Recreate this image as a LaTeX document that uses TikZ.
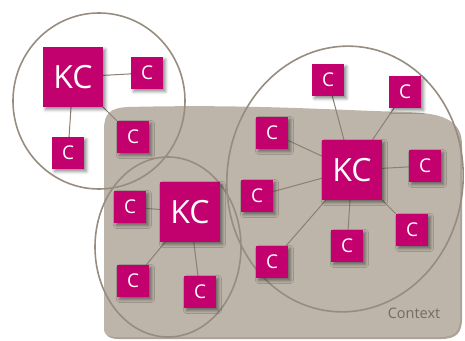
\documentclass[tikz,border=0pt]{standalone}
\usepackage{fontspec}
\setmainfont{Open Sans}
\usetikzlibrary{shadows.blur}
\definecolor{kcmag}{RGB}{194,0,110}
\definecolor{ctxfill}{RGB}{190,181,170}
\definecolor{ctxedge}{RGB}{172,162,150}
\definecolor{ringgray}{RGB}{150,140,128}
\definecolor{linkgray}{RGB}{138,128,116}
\definecolor{ctxtext}{RGB}{118,106,94}
\pgfdeclarelayer{under}
\pgfsetlayers{under,main}
\begin{document}
\begin{tikzpicture}[x=1pt,y=-1pt,
  box/.style={fill=kcmag, text=white, inner sep=0pt,
    blur shadow={shadow xshift=2.5pt, shadow yshift=-2.5pt,
                 shadow blur radius=3pt, shadow opacity=45}},
  kc/.style={box, minimum size=60pt, font=\fontsize{32}{32}\selectfont},
  cc/.style={box, minimum size=32pt, font=\fontsize{19}{19}\selectfont},
  link/.style={draw=linkgray, line width=1pt},
  ring/.style={draw=ringgray, line width=1.6pt}]
\useasboundingbox (0,0) rectangle (465,340);

\node[text=ctxtext, font=\fontsize{14.5}{14.5}\selectfont] (ctx) at (414,313) {Context};

% knowledge carriers and their contacts
\node[kc] (k1) at (73,77) {KC};
\node[cc] (a1) at (147,73) {C};
\node[cc] (a2) at (133,137) {C};
\node[cc] (a3) at (68,153) {C};

\node[kc] (k2) at (190,212) {KC};
\node[cc] (b1) at (130,207) {C};
\node[cc] (b2) at (133,281) {C};
\node[cc] (b3) at (200,292) {C};

\node[kc] (k3) at (352,170) {KC};
\node[cc] (c1) at (328,80) {C};
\node[cc] (c2) at (405,92) {C};
\node[cc] (c3) at (272,133) {C};
\node[cc] (c4) at (425,166) {C};
\node[cc] (c5) at (257,196) {C};
\node[cc] (c6) at (412,230) {C};
\node[cc] (c7) at (347,246) {C};
\node[cc] (c8) at (272,262) {C};

% everything beneath the boxes: context area, groupings, connectors
\begin{pgfonlayer}{under}
\fill[ctxedge]
  (105,331) -- (105,131)
  .. controls (105,114) and (111,109) .. (129,108)
  .. controls (251,105) and (331,111) .. (406,113)
  .. controls (446,114) and (462,121) .. (462,146)
  -- (462,319)
  .. controls (462,333) and (456,339) .. (441,339)
  -- (119,339)
  .. controls (109,339) and (105,335) .. (105,331) -- cycle;
\fill[ctxfill]
  (104,330) -- (104,130)
  .. controls (104,113) and (110,108) .. (128,107)
  .. controls (250,104) and (330,110) .. (405,112)
  .. controls (445,113) and (460,120) .. (460,145)
  -- (460,318)
  .. controls (460,332) and (454,337) .. (440,337)
  -- (118,337)
  .. controls (108,337) and (104,334) .. (104,330) -- cycle;
\draw[ring] (99,101) ellipse [x radius=86, y radius=88];
\draw[ring] (168,247) ellipse [x radius=73, y radius=90];
\draw[ring, rotate around={-6:(345,179)}] (345,179) ellipse [x radius=118, y radius=133];
\foreach \s/\t in {k1/a1,k1/a2,k1/a3,k2/b1,k2/b2,k2/b3,
                   k3/c1,k3/c2,k3/c3,k3/c4,k3/c5,k3/c6,k3/c7,k3/c8}
  \draw[link] (\s) -- (\t);
\end{pgfonlayer}
\end{tikzpicture}
\end{document}
